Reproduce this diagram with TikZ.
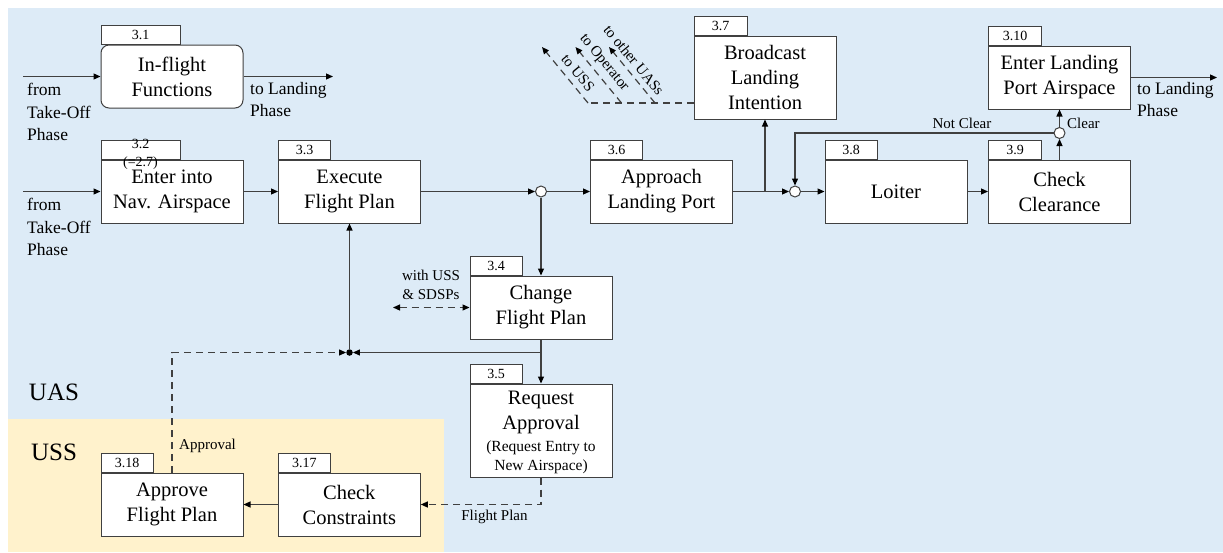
\documentclass[tikz,border=0pt]{standalone}
\usepackage{fontspec}
\setmainfont{Liberation Serif}
\usetikzlibrary{arrows.meta}
\definecolor{uasbg}{RGB}{221,235,247}
\definecolor{ussbg}{RGB}{255,242,204}
\definecolor{ink}{RGB}{64,64,64}
\tikzset{
  fbig/.style={font=\fontsize{20.5}{25}\selectfont},
  box/.style={draw=ink, line width=1pt, fill=white, minimum width=142pt,
    minimum height=63pt, inner sep=0pt, align=center, fbig},
  tab/.style={draw=ink, line width=1pt, fill=white, minimum width=52pt,
    minimum height=19pt, inner sep=0pt, anchor=south west,
    font=\fontsize{14}{16}\selectfont},
  tabtext/.style={inner sep=0pt, font=\fontsize{14}{16}\selectfont},
  tip/.tip={Triangle[length=7pt,width=6pt,color=black]},
  flow/.style={draw=ink, line width=1.2pt, -tip},
  flowboth/.style={draw=ink, line width=1.2pt, tip-tip},
  plain/.style={draw=ink, line width=1.2pt},
  dsh/.style={dash pattern=on 7pt off 5pt},
  junc/.style={circle, draw=ink, line width=1pt, fill=white,
    minimum size=11pt, inner sep=0pt},
  jdot/.style={circle, fill=black, minimum size=6.5pt, inner sep=0pt},
  side/.style={inner sep=0pt, align=left, font=\fontsize{17.5}{22.5}\selectfont},
  note/.style={inner sep=0pt, align=center, font=\fontsize{15}{19}\selectfont},
  lane/.style={inner sep=0pt, font=\fontsize{25}{30}\selectfont},
}
\begin{document}
\begin{tikzpicture}[x=1pt,y=-1pt]
\useasboundingbox (0,0) rectangle (1223,552);
% swim lanes
\fill[uasbg] (8,8) rectangle (1223,552);
\fill[ussbg] (8,419) rectangle (444,552);
\node[lane] (lnuas) at (54,392) {UAS};
\node[lane] (lnuss) at (54,452) {USS};

% process boxes with their number tabs
\node[box, rounded corners=8pt] (b31) at (172,76.5) {In-flight\\Functions};
\node[tab, minimum width=79pt] (t31) at (b31.north west) {3.1};
\node[box] (b32) at (172,191.5) {Enter into\\Nav. Airspace};
\node[tab, minimum width=79pt] (t32) at (b32.north west) {};
\node[box] (b33) at (349.5,191.5) {Execute\\Flight Plan};
\node[tab] (t33) at (b33.north west) {3.3};
\node[box] (b34) at (541,307.5) {Change\\Flight Plan};
\node[tab] (t34) at (b34.north west) {3.4};
\node[box, minimum height=93pt] (b35) at (541,430.5) {};
\node[tab] (t35) at (b35.north west) {3.5};
\node[fbig, inner sep=0pt, align=center] (b35a) at (541,412) {Request\\Approval};
\node[note, font=\fontsize{15.5}{19}\selectfont] (b35b) at (541,457.5) {(Request Entry to\\New Airspace)};
\node[box] (b36) at (661.5,191.5) {Approach\\Landing Port};
\node[tab] (t36) at (b36.north west) {3.6};
\node[box, minimum height=83pt] (b37) at (765,77.5) {Broadcast\\Landing\\Intention};
\node[tab, minimum width=53pt] (t37) at (b37.north west) {3.7};
\node[box] (b38) at (896,191.5) {Loiter};
\node[tab] (t38) at (b38.north west) {3.8};
\node[box] (b39) at (1059.5,191.5) {Check\\Clearance};
\node[tab, minimum width=53pt] (t39) at (b39.north west) {3.9};
\node[box] (b310) at (1059.5,77.5) {Enter Landing\\Port Airspace};
\node[tab, minimum width=53pt] (t310) at (b310.north west) {3.10};
\node[box] (b317) at (349.3,504.5) {Check\\Constraints};
\node[tab] (t317) at (b317.north west) {3.17};
\node[box] (b318) at (172,504.5) {Approve\\Flight Plan};
\node[tab] (t318) at (b318.north west) {3.18};

% junctions
\node[junc] (c1) at (541,191.5) {};
\node[junc] (c2) at (795,191.5) {};
\node[junc] (c3) at (1059.5,133) {};
\node[jdot] (dt) at (349.5,352.5) {};

% free ends
\coordinate (in1) at (23,76.5);
\coordinate (out1) at (333,76.5);
\coordinate (in2) at (23,191.5);
\coordinate (out3) at (1217,77.5);
\coordinate (ext) at (393,307.5);
\coordinate (d1) at (588,103);
\coordinate (d2) at (621.5,103);
\coordinate (d3) at (655,103);
\coordinate (u1) at (542,47);
\coordinate (u2) at (575.5,47);
\coordinate (u3) at (609,47);

% connectors
\draw[flow] (in1) -- (b31);
\draw[flow] (b31) -- (out1);
\draw[flow] (in2) -- (b32);
\draw[flow] (b32) -- (b33);
\draw[flow] (b33) -- (c1);
\draw[flow] (c1) -- (b36);
\draw[flow] (c1) -- (b34);
\draw[flow] (b36) -- (c2);
\draw[flow] (b36.east -| b37.south) -- (b37);
\draw[flow] (c2) -- (b38);
\draw[flow] (b38) -- (b39);
\draw[flow] (b39) -- (c3);
\draw[flow] (c3) -- (b310);
\draw[flow] (c3) -- (c3 -| c2) -- (c2);
\draw[flow] (b310) -- (out3);
\draw[flow] (b34) -- (b35);
\draw[flow] (b34.south |- dt) -- (dt);
\draw[flow] (dt) -- (b33);
\draw[flow, dsh] (b318) -- (b318.north |- dt) -- (dt);
\draw[flow, dsh] (b35) -- (b35.south |- b317) -- (b317);
\draw[flow] (b317) -- (b318);
\draw[flowboth, dsh] (ext) -- (b34);
\draw[plain, dsh] (b37.west |- d1) -- (d1);
\draw[flow, dsh] (d1) -- (u1);
\draw[flow, dsh] (d2) -- (u2);
\draw[flow, dsh] (d3) -- (u3);

% labels
\node[side, anchor=north west] (lfrom1) at (27,83) {from\\Take-Off\\Phase};
\node[side, anchor=north west] (lfrom2) at (27,198) {from\\Take-Off\\Phase};
\node[side, anchor=north west] (lto1) at (250,82) {to Landing\\Phase};
\node[side, anchor=north west] (lto2) at (1137,82) {to Landing\\Phase};
\node[note] (lnc) at (962,123) {Not Clear};
\node[note, anchor=west] (lcl) at (1067,123) {Clear};
\node[note, anchor=west] (lap) at (179,446) {Approval};
\node[note] (lfp) at (494.5,517) {Flight Plan};
\node[note] (lws) at (431,285) {with USS\\\& SDSPs};
\node[note, rotate=-50.5] (lr1) at (578,73) {to USS};
\node[note, rotate=-50.5] (lr2) at (604,63) {to Operator};
\node[note, rotate=-50.5] (lr3) at (634,60) {to other UASs};
\node[tabtext] (l32a) at (140.5,144) {3.2};
\node[tabtext] (l32b) at (140.5,163.5) {(=2.7)};
\end{tikzpicture}
\end{document}
